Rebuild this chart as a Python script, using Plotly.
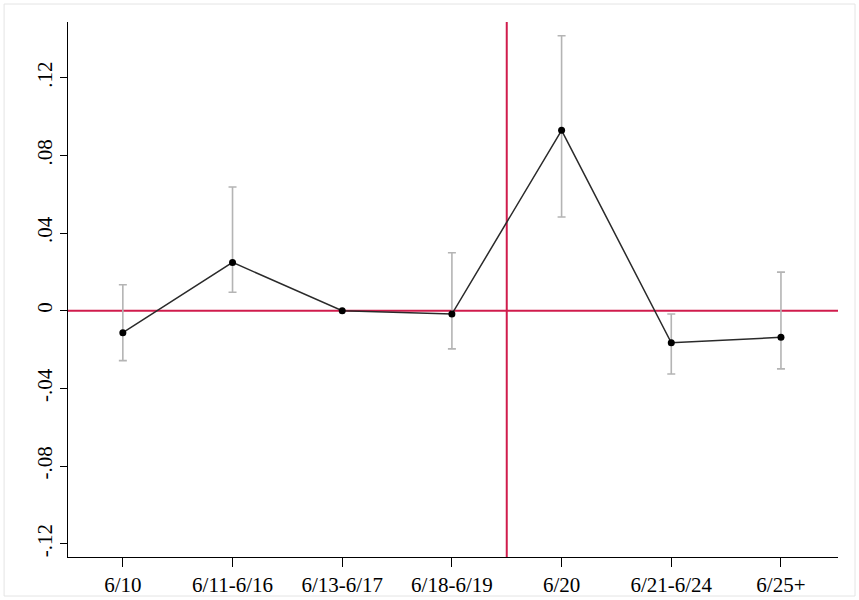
import plotly.graph_objects as go

# Event windows and estimated coefficients with 95% CI bounds
periods = ["6/10", "6/11-6/16", "6/13-6/17", "6/18-6/19", "6/20", "6/21-6/24", "6/25+"]
coef = [-0.0113, 0.0249, 0.0, -0.0017, 0.0929, -0.0165, -0.0137]
ci_upper = [0.0134, 0.0637, None, 0.0299, 0.1416, -0.0017, 0.0199]
ci_lower = [-0.0257, 0.0095, None, -0.0196, 0.0483, -0.0326, -0.0299]

y_tick_vals = [-0.12, -0.08, -0.04, 0, 0.04, 0.08, 0.12]
y_tick_text = ["-.12", "-.08", "-.04", "0", ".04", ".08", ".12"]

x_idx = list(range(len(periods)))

# Confidence intervals (the omitted reference period has none)
ci_x = [i for i in x_idx if ci_upper[i] is not None]
ci_y = [coef[i] for i in ci_x]
ci_plus = [ci_upper[i] - coef[i] for i in ci_x]
ci_minus = [coef[i] - ci_lower[i] for i in ci_x]

fig = go.Figure()

fig.add_trace(go.Scatter(
    x=ci_x, y=ci_y, mode="markers",
    marker=dict(size=1, color="rgba(0,0,0,0)"),
    error_y=dict(type="data", symmetric=False, array=ci_plus, arrayminus=ci_minus,
                 color="#b4b4b4", thickness=1.6, width=4),
    hoverinfo="skip", showlegend=False,
))

fig.add_trace(go.Scatter(
    x=x_idx, y=coef, mode="lines+markers",
    line=dict(color="#2a2a2a", width=1.5),
    marker=dict(color="black", size=7),
    showlegend=False,
))

red = "#d01c4c"
fig.add_shape(type="line", xref="x", yref="paper", x0=3.5, x1=3.5, y0=0, y1=1,
              line=dict(color=red, width=2), layer="below")
fig.add_shape(type="line", xref="paper", yref="y", x0=0, x1=1, y0=0, y1=0,
              line=dict(color=red, width=2), layer="below")

# Light outer frame of the graph region
fig.add_shape(type="rect", xref="paper", yref="paper",
              x0=-0.083, x1=1.0221, y0=-0.0729, y1=1.0336,
              line=dict(color="#e4e4e4", width=1), layer="below")

font = dict(family="Liberation Serif", size=21, color="black")

fig.update_layout(
    width=859, height=600,
    margin=dict(l=68, r=21, t=22, b=43),
    paper_bgcolor="white", plot_bgcolor="white",
    font=font,
    xaxis=dict(
        range=[-0.5, 6.52],
        tickmode="array", tickvals=x_idx, ticktext=periods,
        showgrid=False, zeroline=False, automargin=False,
        showline=True, linecolor="black", linewidth=1,
        ticks="outside", ticklen=9, tickcolor="black", tickwidth=1,
        tickfont=font,
    ),
    yaxis=dict(
        range=[-0.1268, 0.1487],
        tickmode="array", tickvals=y_tick_vals, ticktext=y_tick_text,
        tickangle=-90,
        showgrid=False, zeroline=False, automargin=False,
        showline=True, linecolor="black", linewidth=1,
        ticks="outside", ticklen=7, tickcolor="black", tickwidth=1,
        tickfont=font,
    ),
)

fig.write_html("out.html")
